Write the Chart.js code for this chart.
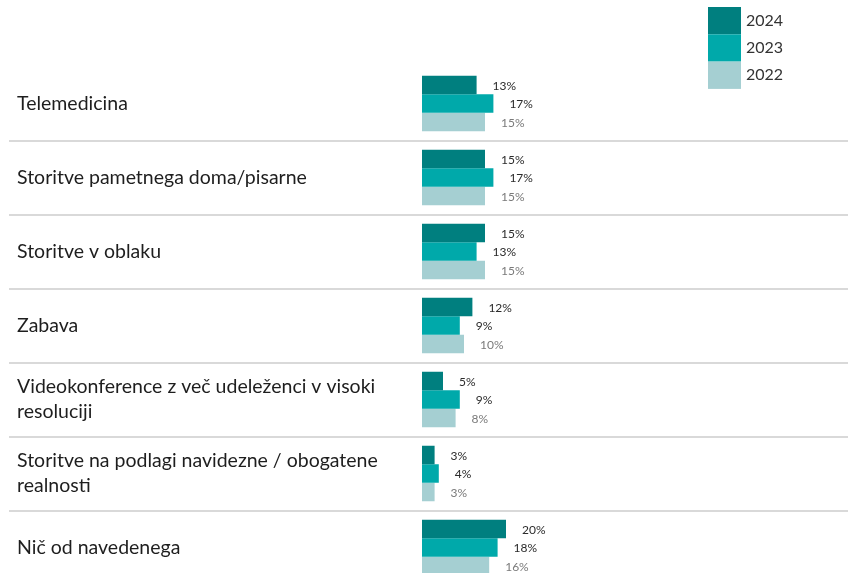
<!DOCTYPE html>
<html>
<head>
<meta charset="utf-8">
<script src="https://cdn.jsdelivr.net/npm/chart.js@4.4.1/dist/chart.umd.min.js"></script>
<style>
  html, body { margin: 0; padding: 0; background: #fff; overflow: hidden; }
  #wrap { position: relative; width: 848px; height: 600px; }
</style>
</head>
<body>
<div id="wrap"><canvas id="chart"></canvas></div>
<script>
const categories = [
  'Telemedicina',
  'Storitve pametnega doma/pisarne',
  'Storitve v oblaku',
  'Zabava',
  ['Videokonference z več udeleženci v visoki', 'resoluciji'],
  ['Storitve na podlagi navidezne / obogatene', 'realnosti'],
  'Nič od navedenega'
];
const years = ['2024', '2023', '2022'];
const values2024 = [13, 15, 15, 12, 5, 3, 20];
const values2023 = [17, 17, 13, 9, 9, 4, 18];
const values2022 = [15, 15, 15, 10, 8, 3, 16];

const barColors = ['#007f7f', '#00a9aa', '#a5cfd2'];
const labelColors = ['#2b2b2b', '#2b2b2b', '#7a7a7a'];
const FONT = 'Lato, "Open Sans", sans-serif';

// thin grey rules between the category rows, running under the labels too
const separators = {
  id: 'separators',
  beforeDatasetsDraw(chart) {
    const y = chart.scales.y, ctx = chart.ctx;
    ctx.save();
    ctx.strokeStyle = '#d9d9d9';
    ctx.lineWidth = 2;
    for (let i = 0; i < categories.length - 1; i++) {
      const py = Math.round((y.getPixelForValue(i) + y.getPixelForValue(i + 1)) / 2);
      ctx.beginPath();
      ctx.moveTo(9, py);
      ctx.lineTo(chart.width, py);
      ctx.stroke();
    }
    ctx.restore();
  }
};

// percentage next to the end of each bar
const valueLabels = {
  id: 'valueLabels',
  afterDatasetsDraw(chart) {
    const ctx = chart.ctx;
    ctx.save();
    ctx.font = '12px ' + FONT;
    ctx.textBaseline = 'middle';
    ctx.textAlign = 'left';
    chart.data.datasets.forEach((ds, di) => {
      ctx.fillStyle = labelColors[di];
      chart.getDatasetMeta(di).data.forEach((bar, i) => {
        ctx.fillText(ds.data[i] + '%', bar.x + 16, bar.y + 1);
      });
    });
    ctx.restore();
  }
};

// stacked colour squares with the year beside them, top right
const yearLegend = {
  id: 'yearLegend',
  afterDraw(chart) {
    const ctx = chart.ctx;
    const x0 = 708, w = 33, h = 27.3, top = 7;
    ctx.save();
    ctx.font = '16px ' + FONT;
    ctx.textBaseline = 'middle';
    ctx.textAlign = 'left';
    chart.data.datasets.forEach((ds, i) => {
      const y = top + i * h;
      ctx.fillStyle = ds.backgroundColor;
      ctx.fillRect(x0, y, w, h);
      ctx.fillStyle = '#333333';
      ctx.fillText(ds.label, x0 + 38, y + h / 2);
    });
    ctx.restore();
  }
};

new Chart(document.getElementById('chart'), {
  type: 'bar',
  data: {
    labels: categories,
    datasets: [
      { label: years[0], data: values2024, backgroundColor: barColors[0] },
      { label: years[1], data: values2023, backgroundColor: barColors[1] },
      { label: years[2], data: values2022, backgroundColor: barColors[2] }
    ]
  },
  options: {
    indexAxis: 'y',
    responsive: true,
    maintainAspectRatio: false,
    animation: false,
    layout: { padding: { left: 17, right: 6, top: 66.5, bottom: 10.5 } },
    datasets: { bar: { barPercentage: 1, categoryPercentage: 0.75, borderWidth: 0 } },
    plugins: {
      legend: { display: false },
      tooltip: { enabled: false }
    },
    scales: {
      x: {
        display: false,
        min: 0,
        max: 100
      },
      y: {
        grid: { display: false },
        border: { display: false },
        afterFit: s => { s.width = 405; },
        ticks: {
          crossAlign: 'far',
          color: '#1e1e1e',
          font: { family: FONT, size: 19.5, lineHeight: 1.28 }
        }
      }
    }
  },
  plugins: [separators, valueLabels, yearLegend]
});
</script>
</body>
</html>
